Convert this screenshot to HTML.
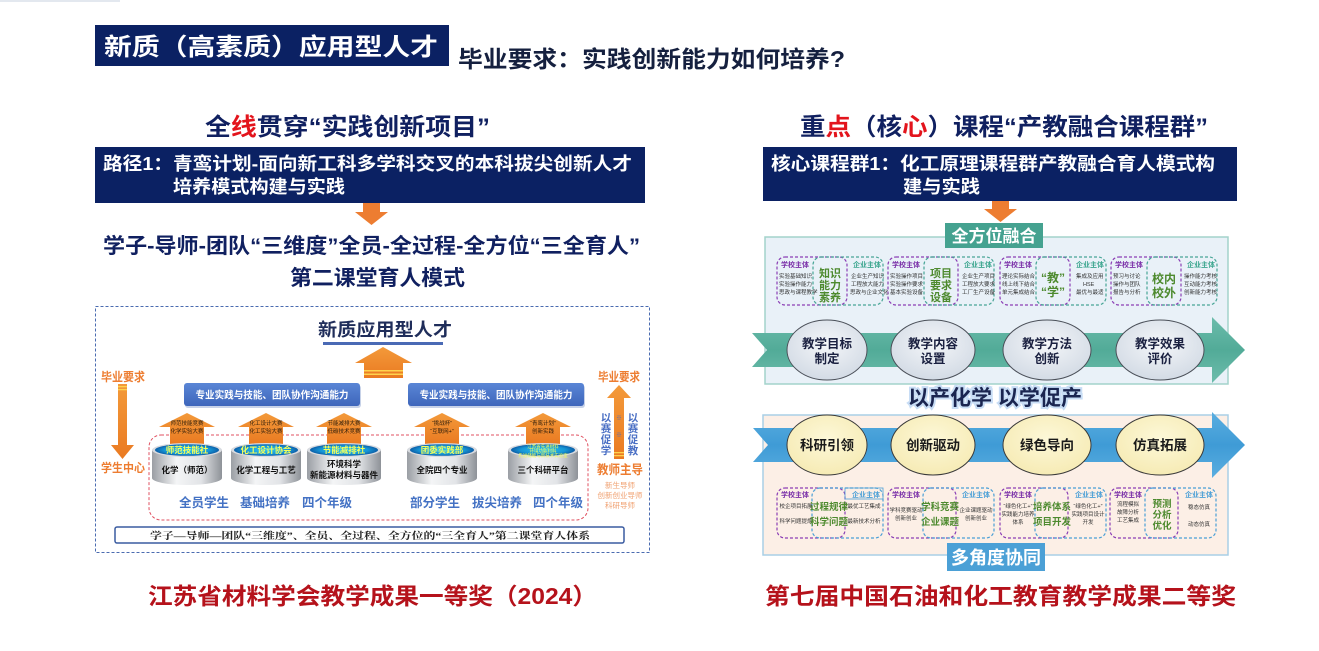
<!DOCTYPE html>
<html><head><meta charset="utf-8">
<style>
html,body{margin:0;padding:0;background:#fff;}
svg{display:block;}
.s{font-family:"Liberation Sans","Noto Sans CJK SC",sans-serif;font-weight:700;}
.r{font-family:"Liberation Serif","Noto Serif CJK SC",serif;font-weight:700;}
.n{font-family:"Liberation Sans","Noto Sans CJK SC",sans-serif;font-weight:400;}
</style></head><body>
<svg width="1319" height="651" viewBox="0 0 1319 651" xmlns="http://www.w3.org/2000/svg">
<defs>
 <linearGradient id="og" x1="0" y1="0" x2="0" y2="1"><stop offset="0" stop-color="#f39a3a"/><stop offset="1" stop-color="#ea7a22"/></linearGradient>
 <linearGradient id="bb" x1="0" y1="0" x2="0" y2="1"><stop offset="0" stop-color="#5a86d6"/><stop offset="1" stop-color="#3e66bb"/></linearGradient>
 <linearGradient id="cyl" x1="0" y1="0" x2="1" y2="0"><stop offset="0" stop-color="#9a9ea4"/><stop offset="0.35" stop-color="#f4f5f6"/><stop offset="0.7" stop-color="#e2e4e7"/><stop offset="1" stop-color="#8e9298"/></linearGradient>
 <radialGradient id="cy"><stop offset="0" stop-color="#2cc6f2"/><stop offset="0.7" stop-color="#1696d6"/><stop offset="1" stop-color="#0c5fa8"/></radialGradient>
 <radialGradient id="el" cx="0.5" cy="0.4" r="0.6"><stop offset="0" stop-color="#f4f6f9"/><stop offset="1" stop-color="#d3dbe5"/></radialGradient>
 <radialGradient id="ey" cx="0.5" cy="0.4" r="0.6"><stop offset="0" stop-color="#fdf8d8"/><stop offset="1" stop-color="#f6ebb5"/></radialGradient>
 <linearGradient id="tg" x1="0" y1="0" x2="0" y2="1"><stop offset="0" stop-color="#6cbcab"/><stop offset="0.5" stop-color="#52ab98"/><stop offset="1" stop-color="#6cbcab"/></linearGradient>
 <linearGradient id="blg" x1="0" y1="0" x2="0" y2="1"><stop offset="0" stop-color="#5aaee0"/><stop offset="0.5" stop-color="#3f9bd6"/><stop offset="1" stop-color="#5aaee0"/></linearGradient>
</defs>

<rect x="0" y="0" width="120" height="2" fill="#e3e8ef"/>

<!-- Title -->
<rect x="95" y="25" width="354" height="41" fill="#0b2163"/>
<text class="s" x="104" y="55" font-size="24" fill="#fff" textLength="334" lengthAdjust="spacingAndGlyphs">新质（高素质）应用型人才</text>
<text class="s" x="458" y="67" font-size="23" fill="#15203f" textLength="387" lengthAdjust="spacingAndGlyphs">毕业要求：实践创新能力如何培养?</text>

<!-- Left header -->
<text class="s" x="205" y="135" font-size="24" fill="#102060" textLength="285" lengthAdjust="spacingAndGlyphs">全<tspan fill="#e3141c">线</tspan>贯穿“实践创新项目”</text>
<rect x="95" y="147" width="550" height="56" fill="#0b2163"/>
<text class="s" x="103" y="170" font-size="18" fill="#fff" textLength="529" lengthAdjust="spacingAndGlyphs">路径1：青鸾计划-面向新工科多学科交叉的本科拔尖创新人才</text>
<text class="s" x="173" y="193" font-size="18" fill="#fff" textLength="172" lengthAdjust="spacingAndGlyphs">培养模式构建与实践</text>
<polygon points="363,203 380,203 380,212 388,212 371.5,225 355,212 363,212" fill="#ed7d31"/>
<text class="s" x="103" y="253" font-size="21" fill="#102060" textLength="537" lengthAdjust="spacingAndGlyphs">学子-导师-团队“三维度”全员-全过程-全方位“三全育人”</text>
<text class="s" x="290" y="285" font-size="21" fill="#102060" textLength="175" lengthAdjust="spacingAndGlyphs">第二课堂育人模式</text>

<!-- Left diagram -->
<rect x="95.5" y="306.5" width="554" height="246" fill="#fff" stroke="#4a6bb0" stroke-width="1" stroke-dasharray="3,2"/>
<text class="s" x="385" y="336" font-size="18" fill="#1f2d5a" text-anchor="middle" textLength="134" lengthAdjust="spacingAndGlyphs">新质应用型人才</text>
<rect x="323" y="342" width="120" height="3" fill="#4a6ab5"/>
<polygon points="383,347 412,363 403,363 403,378 364,378 364,363 355,363" fill="url(#og)"/>
<rect x="364" y="370" width="39" height="1.5" fill="#ffd34d"/>
<rect x="364" y="373.5" width="39" height="1.5" fill="#ffd34d"/>

<rect x="185" y="385" width="176" height="23" rx="3" fill="#c7d2e8"/>
<rect x="184" y="383" width="176" height="23" rx="3" fill="url(#bb)"/>
<text class="s" x="272" y="398.5" font-size="10" fill="#fff" text-anchor="middle" textLength="153" lengthAdjust="spacingAndGlyphs">专业实践与技能、团队协作沟通能力</text>
<rect x="409" y="385" width="176" height="23" rx="3" fill="#c7d2e8"/>
<rect x="408" y="383" width="176" height="23" rx="3" fill="url(#bb)"/>
<text class="s" x="496" y="398.5" font-size="10" fill="#fff" text-anchor="middle" textLength="153" lengthAdjust="spacingAndGlyphs">专业实践与技能、团队协作沟通能力</text>

<!-- left column -->
<text class="s" x="101" y="381" font-size="12" fill="#ed7d31" textLength="44" lengthAdjust="spacingAndGlyphs">毕业要求</text>
<polygon points="118,384 127,384 127,445 134,445 122.5,459 111,445 118,445" fill="url(#og)"/>
<rect x="118" y="386" width="9" height="1.3" fill="#ffd34d"/>
<rect x="118" y="389" width="9" height="1.3" fill="#ffd34d"/>
<text class="s" x="101" y="472" font-size="12" fill="#ed7d31" textLength="44" lengthAdjust="spacingAndGlyphs">学生中心</text>

<!-- right column -->
<text class="s" x="598" y="381" font-size="12" fill="#ed7d31" textLength="42" lengthAdjust="spacingAndGlyphs">毕业要求</text>
<polygon points="619,385 631,398 624,398 624,459 614,459 614,398 607,398" fill="url(#og)"/>
<rect x="614" y="452" width="10" height="1.3" fill="#ffd34d"/>
<rect x="614" y="455" width="10" height="1.3" fill="#ffd34d"/>
<text class="n" x="619" y="420" font-size="6" fill="#4a6fc4" text-anchor="middle">※</text>
<text class="n" x="619" y="437" font-size="6" fill="#4a6fc4" text-anchor="middle">※</text>
<g class="s" font-size="10.5" fill="#4a6fc4" text-anchor="middle">
<text x="606" y="421">以</text><text x="606" y="432">赛</text><text x="606" y="443">促</text><text x="606" y="454">学</text>
<text x="633" y="421">以</text><text x="633" y="432">赛</text><text x="633" y="443">促</text><text x="633" y="454">教</text>
</g>
<text class="s" x="597" y="474" font-size="12.5" fill="#ed7d31" textLength="46" lengthAdjust="spacingAndGlyphs">教师主导</text>
<g class="n" font-size="7.5" fill="#f0a070" text-anchor="middle">
<text x="620" y="488">新生导师</text>
<text x="620" y="498">创新创业导师</text>
<text x="620" y="508">科研导师</text>
</g>

<!-- red dashed -->
<rect x="149" y="435" width="439" height="85" rx="12" fill="none" stroke="#e05060" stroke-width="1" stroke-dasharray="3,2"/>

<!-- small arrows -->
<g fill="url(#og)">
<polygon points="187,413 215,427 204,427 204,444 170,444 170,427 159,427"/>
<polygon points="266,413 294,427 283,427 283,444 249,444 249,427 238,427"/>
<polygon points="344,413 372,427 361,427 361,444 327,444 327,427 316,427"/>
<polygon points="442,413 470,427 459,427 459,444 425,444 425,427 414,427"/>
<polygon points="543,413 571,427 560,427 560,444 526,444 526,427 515,427"/>
</g>
<g class="n" font-size="5.5" fill="#2a1a0a" text-anchor="middle">
<text x="187" y="425">师范技能竞赛</text><text x="187" y="433">化学实验大赛</text>
<text x="266" y="425">化工设计大赛</text><text x="266" y="433">化工实验大赛</text>
<text x="344" y="425">节能减排大赛</text><text x="344" y="433">低碳技术竞赛</text>
<text x="442" y="425">“挑战杯”</text><text x="442" y="433">“互联网+”</text>
<text x="543" y="425">“青鸾计划”</text><text x="543" y="433">创新实践</text>
</g>

<!-- cylinders -->
<g>
<path d="M152,450 L152,478 A35,7 0 0 0 222,478 L222,450 Z" fill="url(#cyl)"/>
<ellipse cx="187" cy="450" rx="35" ry="7" fill="#d8dbe0"/>
<ellipse cx="187" cy="450" rx="32" ry="5.8" fill="url(#cy)"/>
<path d="M231,450 L231,478 A35,7 0 0 0 301,478 L301,450 Z" fill="url(#cyl)"/>
<ellipse cx="266" cy="450" rx="35" ry="7" fill="#d8dbe0"/>
<ellipse cx="266" cy="450" rx="32" ry="5.8" fill="url(#cy)"/>
<path d="M307,450 L307,478 A37,7 0 0 0 381,478 L381,450 Z" fill="url(#cyl)"/>
<ellipse cx="344" cy="450" rx="37" ry="7" fill="#d8dbe0"/>
<ellipse cx="344" cy="450" rx="34" ry="5.8" fill="url(#cy)"/>
<path d="M407,450 L407,478 A35,7 0 0 0 477,478 L477,450 Z" fill="url(#cyl)"/>
<ellipse cx="442" cy="450" rx="35" ry="7" fill="#d8dbe0"/>
<ellipse cx="442" cy="450" rx="32" ry="5.8" fill="url(#cy)"/>
<path d="M508,450 L508,478 A35,7 0 0 0 578,478 L578,450 Z" fill="url(#cyl)"/>
<ellipse cx="543" cy="450" rx="35" ry="7" fill="#d8dbe0"/>
<ellipse cx="543" cy="450" rx="32" ry="5.8" fill="url(#cy)"/>
</g>
<g class="s" font-size="8.5" fill="#f4ff5a" text-anchor="middle">
<text x="187" y="453">师范技能社</text>
<text x="266" y="453">化工设计协会</text>
<text x="344" y="453">节能减排社</text>
<text x="442" y="453">团委实践部</text>
</g>
<g class="n" font-size="4.5" fill="#f4ff5a" text-anchor="middle">
<text x="543" y="448">江苏省先进材料</text><text x="543" y="452.5">环境功能材料</text><text x="543" y="457">先进储能与新技术实验室</text>
</g>
<g class="s" font-size="8.5" fill="#111" text-anchor="middle">
<text x="187" y="473">化学（师范）</text>
<text x="266" y="473">化学工程与工艺</text>
<text x="344" y="467">环境科学</text>
<text x="344" y="478">新能源材料与器件</text>
<text x="442" y="473">全院四个专业</text>
<text x="543" y="473">三个科研平台</text>
</g>
<g class="s" font-size="12.5" fill="#4472c4" text-anchor="middle">
<text x="204" y="507">全员学生</text>
<text x="265" y="507">基础培养</text>
<text x="327" y="507">四个年级</text>
<text x="435" y="507">部分学生</text>
<text x="497" y="507">拔尖培养</text>
<text x="558" y="507">四个年级</text>
</g>
<rect x="115" y="527" width="509" height="16" rx="2" fill="#fff" stroke="#3a5ba0" stroke-width="1.5"/>
<text class="r" x="370" y="539" font-size="9.5" fill="#222" text-anchor="middle" font-weight="400" textLength="440" lengthAdjust="spacingAndGlyphs">学子—导师—团队“三维度”、全员、全过程、全方位的“三全育人”第二课堂育人体系</text>

<!-- Right header -->
<text class="s" x="800" y="135" font-size="24" fill="#102060" textLength="408" lengthAdjust="spacingAndGlyphs">重<tspan fill="#e3141c">点</tspan>（核<tspan fill="#e3141c">心</tspan>）课程“产教融合课程群”</text>
<rect x="763" y="147" width="474" height="54" fill="#0b2163"/>
<text class="s" x="771" y="170" font-size="18" fill="#fff" textLength="444" lengthAdjust="spacingAndGlyphs">核心课程群1：化工原理课程群产教融合育人模式构</text>
<text class="s" x="903" y="193" font-size="18" fill="#fff" textLength="77" lengthAdjust="spacingAndGlyphs">建与实践</text>
<polygon points="992,201 1009,201 1009,209 1017,209 1000.5,222 984,209 992,209" fill="#ed7d31"/>

<!-- top panel -->
<rect x="765" y="237" width="463" height="147" fill="#e9f1f8" stroke="#a3d3cb" stroke-width="1.5"/>
<rect x="945" y="223" width="98" height="25" fill="#45a290"/>
<text class="s" x="994" y="242" font-size="17" fill="#fff" text-anchor="middle">全方位融合</text>

<!-- top groups -->
<g fill="none" stroke-width="1.2" stroke-dasharray="3,2">
<rect x="777" y="257" width="70" height="48" rx="8" stroke="#8b3fb5"/>
<rect x="813" y="257" width="70" height="48" rx="8" stroke="#47a596"/>
<rect x="888" y="257" width="70" height="48" rx="8" stroke="#8b3fb5"/>
<rect x="924" y="257" width="70" height="48" rx="8" stroke="#47a596"/>
<rect x="1000" y="257" width="70" height="48" rx="8" stroke="#8b3fb5"/>
<rect x="1036" y="257" width="70" height="48" rx="8" stroke="#47a596"/>
<rect x="1111" y="257" width="70" height="48" rx="8" stroke="#8b3fb5"/>
<rect x="1147" y="257" width="70" height="48" rx="8" stroke="#47a596"/>
</g>
<g class="s" font-size="7" fill="#7a2fa8">
<text x="781" y="267">学校主体</text><text x="892" y="267">学校主体</text><text x="1004" y="267">学校主体</text><text x="1115" y="267">学校主体</text>
</g>
<g class="s" font-size="7" fill="#3aa58e">
<text x="853" y="267">企业主体</text><text x="964" y="267">企业主体</text><text x="1076" y="267">企业主体</text><text x="1187" y="267">企业主体</text>
</g>
<g class="n" font-size="5.5" fill="#333">
<text x="779" y="278">实验基础知识</text><text x="779" y="286">实验操作能力</text><text x="779" y="294">思政与课程教学</text>
<text x="851" y="278">企业生产知识</text><text x="851" y="286">工程放大能力</text><text x="850" y="294">思政与企业文化</text>
<text x="890" y="278">实验操作项目</text><text x="890" y="286">实验操作要求</text><text x="890" y="294">基本实验设备</text>
<text x="962" y="278">企业生产项目</text><text x="962" y="286">工程放大要求</text><text x="962" y="294">工厂生产设备</text>
<text x="1002" y="278">理论实际结合</text><text x="1002" y="286">线上线下结合</text><text x="1002" y="294">单元集成结合</text>
<text x="1076" y="278">集成及应用</text><text x="1083" y="286">HSE</text><text x="1076" y="294">最优与最适</text>
<text x="1113" y="278">预习与讨论</text><text x="1113" y="286">操作与团队</text><text x="1113" y="294">报告与分析</text>
<text x="1184" y="278">操作能力考核</text><text x="1184" y="286">互动能力考核</text><text x="1184" y="294">创新能力考核</text>
</g>
<g class="s" font-size="11" fill="#4d8a2e" text-anchor="middle">
<text x="830" y="277">知识</text><text x="830" y="289">能力</text><text x="830" y="301">素养</text>
<text x="941" y="277">项目</text><text x="941" y="289">要求</text><text x="941" y="301">设备</text>
<text x="1053" y="282" font-size="12">“教”</text><text x="1053" y="296" font-size="12">“学”</text>
<text x="1164" y="283" font-size="12">校内</text><text x="1164" y="297" font-size="12">校外</text>
</g>

<!-- teal arrow -->
<polygon points="752,333 1212,333 1212,317 1245,350 1212,383 1212,367 752,367 767,350" fill="url(#tg)"/>
<g stroke="#4a4f58" stroke-width="1">
<ellipse cx="827" cy="350" rx="40" ry="30" fill="url(#el)"/>
<ellipse cx="933" cy="350" rx="42" ry="30" fill="url(#el)"/>
<ellipse cx="1047" cy="350" rx="44" ry="30" fill="url(#el)"/>
<ellipse cx="1160" cy="350" rx="44" ry="30" fill="url(#el)"/>
</g>
<g class="s" font-size="12.5" fill="#1a2040" text-anchor="middle">
<text x="827" y="348">教学目标</text><text x="827" y="363">制定</text>
<text x="933" y="348">教学内容</text><text x="933" y="363">设置</text>
<text x="1047" y="348">教学方法</text><text x="1047" y="363">创新</text>
<text x="1160" y="348">教学效果</text><text x="1160" y="363">评价</text>
</g>

<text class="s" x="908" y="405" font-size="21" fill="none" stroke="#c8ddf5" stroke-width="4" textLength="174" lengthAdjust="spacingAndGlyphs">以产化学  以学促产</text>
<text class="s" x="908" y="405" font-size="21" fill="#1a2550" textLength="174" lengthAdjust="spacingAndGlyphs">以产化学  以学促产</text>

<!-- bottom panel -->
<rect x="763" y="415" width="465" height="140" fill="#fcefe6" stroke="#a9cfe6" stroke-width="1.5"/>
<polygon points="753,428 1212,428 1212,412 1245,445 1212,478 1212,462 753,462 768,445" fill="url(#blg)"/>
<g stroke="#3a3a3a" stroke-width="1">
<ellipse cx="827" cy="445" rx="40" ry="30" fill="url(#ey)"/>
<ellipse cx="933" cy="445" rx="42" ry="30" fill="url(#ey)"/>
<ellipse cx="1047" cy="445" rx="44" ry="30" fill="url(#ey)"/>
<ellipse cx="1160" cy="445" rx="44" ry="30" fill="url(#ey)"/>
</g>
<g class="s" font-size="13.5" fill="#1a1a1a" text-anchor="middle">
<text x="827" y="450">科研引领</text>
<text x="933" y="450">创新驱动</text>
<text x="1047" y="450">绿色导向</text>
<text x="1160" y="450">仿真拓展</text>
</g>

<g fill="none" stroke-width="1.2" stroke-dasharray="3,2">
<rect x="777" y="488" width="68" height="50" rx="8" stroke="#8b3fb5"/>
<rect x="812" y="488" width="71" height="50" rx="8" stroke="#4a9fd6"/>
<rect x="888" y="488" width="68" height="50" rx="8" stroke="#8b3fb5"/>
<rect x="923" y="488" width="71" height="50" rx="8" stroke="#4a9fd6"/>
<rect x="1000" y="488" width="68" height="50" rx="8" stroke="#8b3fb5"/>
<rect x="1035" y="488" width="71" height="50" rx="8" stroke="#4a9fd6"/>
<rect x="1110" y="488" width="68" height="50" rx="8" stroke="#8b3fb5"/>
<rect x="1145" y="488" width="71" height="50" rx="8" stroke="#4a9fd6"/>
</g>
<rect x="845" y="488" width="38" height="11" fill="none" stroke="#4a9fd6" stroke-width="0.8"/>
<g class="s" font-size="7" fill="#7a2fa8">
<text x="781" y="497">学校主体</text><text x="892" y="497">学校主体</text><text x="1004" y="497">学校主体</text><text x="1114" y="497">学校主体</text>
</g>
<g class="s" font-size="7" fill="#4a9fd6">
<text x="852" y="497">企业主体</text><text x="962" y="497">企业主体</text><text x="1075" y="497">企业主体</text><text x="1185" y="497">企业主体</text>
</g>
<g class="n" font-size="5.5" fill="#333" text-anchor="middle">
<text x="796" y="508">校企项目拓展</text><text x="796" y="523">科学问题提炼</text>
<text x="864" y="508">最优工艺集成</text><text x="864" y="523">最新技术分析</text>
<text x="906" y="512">学科竞赛驱动</text><text x="906" y="520">创新创业</text>
<text x="976" y="512">企业课题驱动</text><text x="976" y="520">创新创业</text>
<text x="1018" y="508">“绿色化工+”</text><text x="1018" y="516">实践能力培养</text><text x="1018" y="524">体系</text>
<text x="1088" y="508">“绿色化工+”</text><text x="1088" y="516">实践项目设计</text><text x="1088" y="524">开发</text>
<text x="1128" y="506">流程模拟</text><text x="1128" y="514">故障分析</text><text x="1128" y="522">工艺集成</text>
<text x="1199" y="509">稳态仿真</text><text x="1199" y="526">动态仿真</text>
</g>
<g class="s" font-size="9.5" fill="#4d8a2e" text-anchor="middle">
<text x="829" y="510">过程规律</text><text x="829" y="525">科学问题</text>
<text x="940" y="510">学科竞赛</text><text x="940" y="525">企业课题</text>
<text x="1052" y="510">培养体系</text><text x="1052" y="525">项目开发</text>
<text x="1162" y="507">预测</text><text x="1162" y="518">分析</text><text x="1162" y="529">优化</text>
</g>
<rect x="947" y="543" width="98" height="28" fill="#4ba0d6"/>
<text class="s" x="996" y="564" font-size="18" fill="#fff" text-anchor="middle">多角度协同</text>

<!-- awards -->
<text class="s" x="148" y="604" font-size="23" fill="#b5121b" textLength="449" lengthAdjust="spacingAndGlyphs">江苏省材料学会教学成果一等奖（2024）</text>
<text class="s" x="765" y="604" font-size="23" fill="#b5121b" textLength="471" lengthAdjust="spacingAndGlyphs">第七届中国石油和化工教育教学成果二等奖</text>
</svg>
</body></html>
